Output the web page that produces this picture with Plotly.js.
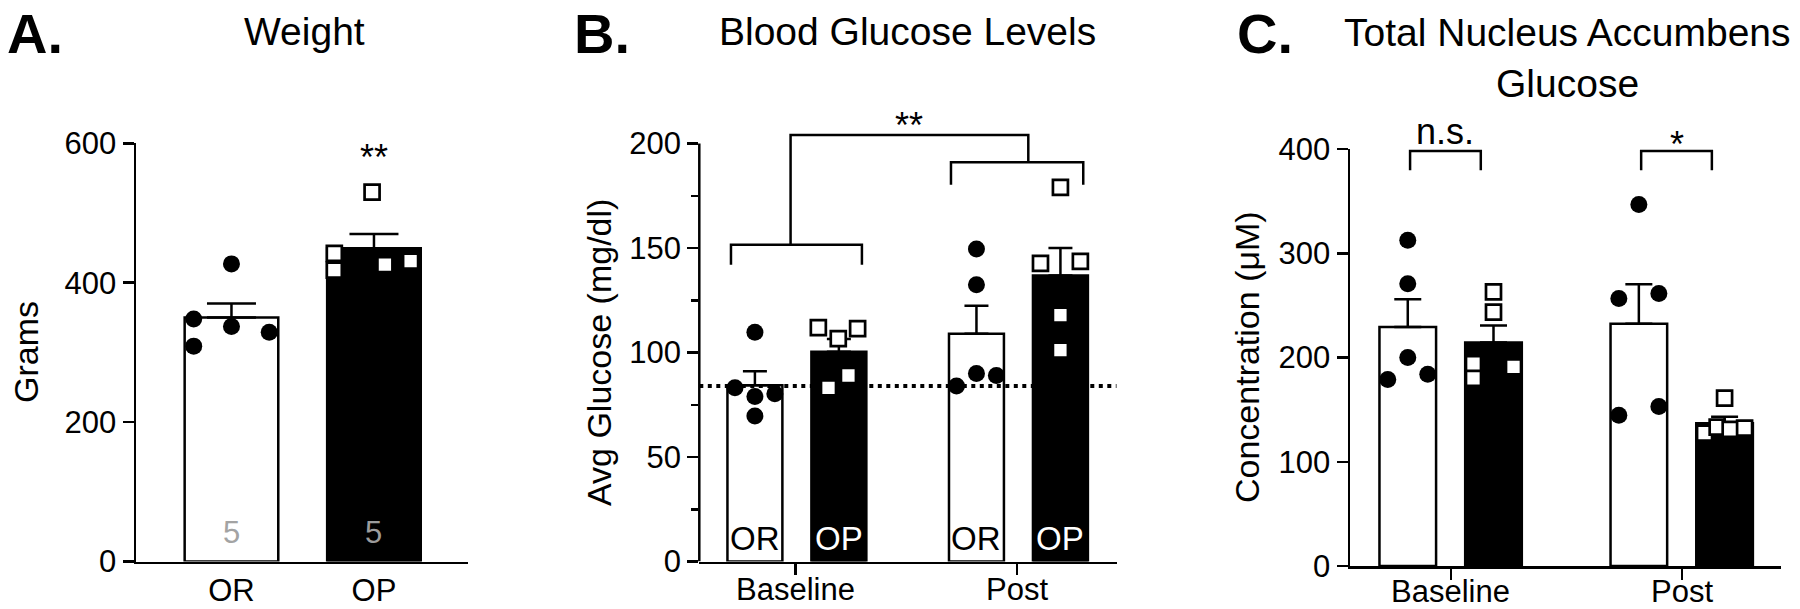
<!DOCTYPE html>
<html><head><meta charset="utf-8">
<script src="https://cdn.plot.ly/plotly-3.0.1.min.js"></script>
<style>html,body{margin:0;padding:0;background:#fff;} #chart{width:1800px;height:609px;}</style>
</head><body><div id="chart"></div>
<script>
// ---------------- DATA ----------------
// Panel A: body weight (grams)
const weightCategories = ['OR', 'OP'];
const weightOR = [427, 348, 309, 337, 329];
const weightOP = [530, 442, 418, 426, 431];
const weightTicks = [0, 200, 400, 600];

// Panel B: blood glucose (mg/dl)
const timepoints = ['Baseline', 'Post'];
const groupNames = ['OR', 'OP'];
const bloodOR = { Baseline: [109.7, 83.1, 79.0, 80.3, 69.6], Post: [149.5, 132.4, 84.0, 89.9, 89.0] };
const bloodOP = { Baseline: [111.9, 106.6, 111.4, 83.1, 89.0], Post: [179.0, 142.6, 143.6, 117.9, 101.1] };
const bloodReference = 84;
const bloodTicks = [0, 50, 100, 150, 200];

// Panel C: total nucleus accumbens glucose (uM)
const nacOR = { Baseline: [312.5, 270.7, 200, 179, 184], Post: [346.8, 256.5, 261.4, 144.7, 152.9] };
const nacOP = { Baseline: [263, 243.5, 194, 180, 191], Post: [161, 127.5, 133.3, 131, 132.3] };
const nacTicks = [0, 100, 200, 300, 400];

// significance labels
const sigA = '**', sigB = '**', sigCbase = 'n.s.', sigCpost = '*';

// ---------------- LAYOUT HELPERS (positions / styles) ----------------
const W = 1800, H = 609;
const px = v => v / W, py = v => 1 - v / H;
const FONT = 'Liberation Sans, Arial, Helvetica, sans-serif';
const LW = 2.5;

// horizontal scatter spread of points (slot multiples)
const spreadA = { OR: [0, -1, -1, 0, 1], OP: [-0.05, -1.05, -1.05, 0.29, 0.97] };
const spreadB = {
  OR: { Baseline: [0, -1, 0, 1, 0], Post: [0, 0, -1, 0, 1] },
  OP: { Baseline: [-1.03, -0.03, 0.94, -0.52, 0.48], Post: [0, -1, 1, 0, 0] }
};
const spreadC = {
  OR: { Baseline: [0, 0, 0, -1, 1], Post: [0, -1, 1, -1, 1] },
  OP: { Baseline: [0, 0, -1, -1, 1], Post: [0, -1, -0.37, 0.28, 1] }
};
const slotA = 0.265, slotB = 0.09, slotC = 0.0866;
const offB = { OR: -0.184, OP: 0.195 }, offC = { OR: -0.187, OP: 0.184 };
const barWA = 0.657, barWB = 0.248, barWC = 0.245;
const rangeXA = [-0.67, 1.662], rangeXB = [-0.435, 1.449], rangeXC = [-0.437, 1.426];

const mean = a => a.reduce((s, v) => s + v, 0) / a.length;
const sem = a => { const m = mean(a); return Math.sqrt(a.reduce((s, v) => s + (v - m) ** 2, 0) / (a.length - 1)) / Math.sqrt(a.length); };

const circle = { symbol: 'circle', size: 17, color: 'black', line: { width: 0 } };
const square = { symbol: 'square', size: 15, color: 'white', line: { width: 2.7, color: 'black' } };

const traces = [];

// ---- Panel A ----
traces.push({
  type: 'bar', x: [0, 1], y: [mean(weightOR), mean(weightOP)], width: barWA,
  marker: { color: ['white', 'black'], line: { color: 'black', width: LW } },
  error_y: { type: 'data', symmetric: false, array: [sem(weightOR), sem(weightOP)], arrayminus: [0, 0], width: 24.5, thickness: LW, color: 'black' },
  xaxis: 'x', yaxis: 'y', hoverinfo: 'skip'
});
traces.push({ type: 'scatter', mode: 'markers', x: weightOR.map((v, i) => 0 + spreadA.OR[i] * slotA), y: weightOR, marker: circle, xaxis: 'x', yaxis: 'y', cliponaxis: false });
traces.push({ type: 'scatter', mode: 'markers', x: weightOP.map((v, i) => 1 + spreadA.OP[i] * slotA), y: weightOP, marker: square, xaxis: 'x', yaxis: 'y', cliponaxis: false });

// ---- grouped panels helper ----
function grouped(dOR, dOP, off, barW, capW, xa, ya) {
  const tp = timepoints;
  traces.push({
    type: 'bar', x: tp.map((t, i) => i + off.OR), y: tp.map(t => mean(dOR[t])), width: barW,
    marker: { color: 'white', line: { color: 'black', width: LW } },
    error_y: { type: 'data', symmetric: false, array: tp.map(t => sem(dOR[t])), arrayminus: [0, 0], width: capW, thickness: LW, color: 'black' },
    xaxis: xa, yaxis: ya, hoverinfo: 'skip'
  });
  traces.push({
    type: 'bar', x: tp.map((t, i) => i + off.OP), y: tp.map(t => mean(dOP[t])), width: barW,
    marker: { color: 'black', line: { color: 'black', width: LW } },
    error_y: { type: 'data', symmetric: false, array: tp.map(t => sem(dOP[t])), arrayminus: [0, 0], width: capW, thickness: LW, color: 'black' },
    xaxis: xa, yaxis: ya, hoverinfo: 'skip'
  });
}
function points(dOR, dOP, off, slot, spread, xa, ya) {
  timepoints.forEach((t, i) => {
    traces.push({ type: 'scatter', mode: 'markers', x: dOR[t].map((v, k) => i + off.OR + spread.OR[t][k] * slot), y: dOR[t], marker: circle, xaxis: xa, yaxis: ya, cliponaxis: false });
    traces.push({ type: 'scatter', mode: 'markers', x: dOP[t].map((v, k) => i + off.OP + spread.OP[t][k] * slot), y: dOP[t], marker: square, xaxis: xa, yaxis: ya, cliponaxis: false });
  });
}

// ---- Panel B ----
grouped(bloodOR, bloodOP, offB, barWB, 12, 'x2', 'y2');
traces.push({ type: 'scatter', mode: 'lines', x: rangeXB, y: [bloodReference, bloodReference], line: { color: 'black', width: 4, dash: '4px,4.5px' }, xaxis: 'x2', yaxis: 'y2', hoverinfo: 'skip' });
points(bloodOR, bloodOP, offB, slotB, spreadB, 'x2', 'y2');

// ---- Panel C ----
grouped(nacOR, nacOP, offC, barWC, 13.5, 'x3', 'y3');
points(nacOR, nacOP, offC, slotC, spreadC, 'x3', 'y3');

// ---------------- AXES ----------------
const tickFont = { family: FONT, size: 31, color: 'black' };
const baseAxis = { showgrid: false, zeroline: false, showline: true, linecolor: 'black', linewidth: LW, tickcolor: 'black', tickwidth: LW, tickfont: tickFont, fixedrange: true };

const layout = {
  width: W, height: H, margin: { l: 0, r: 0, t: 0, b: 0, pad: 0 },
  paper_bgcolor: 'white', plot_bgcolor: 'white', showlegend: false, barmode: 'overlay',
  font: { family: FONT, color: 'black' },
  xaxis: Object.assign({}, baseAxis, { domain: [px(136), px(468.3)], range: rangeXA, tickmode: 'array', tickvals: [0, 1], ticktext: weightCategories, ticks: '', anchor: 'y' }),
  yaxis: Object.assign({}, baseAxis, { domain: [py(561.5), py(143.3)], range: [0, 600], tickmode: 'array', tickvals: weightTicks, ticks: 'outside', ticklen: 11, anchor: 'x' }),
  xaxis2: Object.assign({}, baseAxis, { domain: [px(699.3), px(1116.7)], range: rangeXB, tickmode: 'array', tickvals: [0, 1], showticklabels: false, ticks: 'outside', ticklen: 11, anchor: 'y2' }),
  yaxis2: Object.assign({}, baseAxis, { domain: [py(561.5), py(122.6)], range: [0, 210], showline: false, tickmode: 'array', tickvals: bloodTicks, ticks: 'outside', ticklen: 11, anchor: 'x2',
    minor: { tickmode: 'array', tickvals: bloodTicks.slice(1).map((v, i) => (v + bloodTicks[i]) / 2), ticks: 'outside', ticklen: 7.5, tickwidth: LW, tickcolor: 'black', showgrid: false } }),
  xaxis3: Object.assign({}, baseAxis, { domain: [px(1350), px(1780.5)], range: rangeXC, tickmode: 'array', tickvals: [0, 1], showticklabels: false, ticks: 'outside', ticklen: 11, anchor: 'y3' }),
  yaxis3: Object.assign({}, baseAxis, { domain: [py(566), py(149)], range: [0, 400], tickmode: 'array', tickvals: nacTicks, ticks: 'outside', ticklen: 11, anchor: 'x3' }),
  shapes: [], annotations: []
};

// spine of panel B (range extends above 200 so brackets fit)
layout.shapes.push({ type: 'line', xref: 'x2 domain', yref: 'y2', x0: 0, x1: 0, y0: 0, y1: bloodTicks[bloodTicks.length - 1], line: { color: 'black', width: LW } });

const br = (xref, yref, d) => ({ type: 'path', xref, yref, path: d, line: { color: 'black', width: LW }, layer: 'above' });
// Panel B brackets
const bLow = 142, bBar = 151.6, pLow = 180.3, pBar = 191, topBar = 204.1;
const bL = -0.292, bR = 0.299, stemL = -0.023, stemR = 1.05, pL = 0.701, pR = 1.298;
layout.shapes.push(br('x2', 'y2', `M${bL},${bLow} V${bBar} H${bR} V${bLow}`));
layout.shapes.push(br('x2', 'y2', `M${pL},${pLow} V${pBar} H${pR} V${pLow}`));
layout.shapes.push(br('x2', 'y2', `M${stemL},${bBar} V${topBar} H${stemR} V${pBar}`));
// Panel C brackets
const cLow = 379.5, cBar = 398;
[0, 1].forEach(i => {
  const l = i + offC.OR + 0.01, r = i + offC.OP - 0.055;
  layout.shapes.push(br('x3', 'y3', `M${l},${cLow} V${cBar} H${r} V${cLow}`));
});

// ---------------- TEXT ----------------
const ann = layout.annotations;
const T = (text, x, y, o) => ann.push(Object.assign({ text, x, y, xref: 'paper', yref: 'paper', showarrow: false, xanchor: 'center', yanchor: 'middle', font: { family: FONT, size: 39, color: 'black' } }, o || {}));

// panel letters (anchored at the top edge so they are not cut off)
const letterFont = { family: FONT, size: 56, color: 'black' };
T('<b>A.</b>', px(5), 1, { xanchor: 'left', yanchor: 'top', font: letterFont });
T('<b>B.</b>', px(572), 1, { xanchor: 'left', yanchor: 'top', font: letterFont });
T('<b>C.</b>', px(1235), 1, { xanchor: 'left', yanchor: 'top', font: letterFont });
// titles
T('Weight', px(304), py(31));
T('Blood Glucose Levels', px(907), py(31));
T('Total Nucleus Accumbens', px(1567), py(32));
T('Glucose', px(1567), py(83.5));
// axis titles
const axT = { textangle: -90, font: { family: FONT, size: 34, color: 'black' } };
T('Grams', px(26), py(352), axT);
T('Avg Glucose (mg/dl)', px(599), py(353), axT);
T('Concentration (\u03bcM)', px(1246.5), py(357.5), axT);

// category labels under B and C
timepoints.forEach((t, i) => {
  ann.push({ text: t, x: i, xref: 'x2', y: py(589), yref: 'paper', showarrow: false, yanchor: 'middle', font: tickFont });
  ann.push({ text: t, x: i, xref: 'x3', y: py(591), yref: 'paper', showarrow: false, yanchor: 'middle', font: tickFont });
});

// n per group inside bars in A
ann.push({ text: String(weightOR.length), x: 0, y: 42.3, xref: 'x', yref: 'y', showarrow: false, yanchor: 'middle', font: { family: FONT, size: 31, color: '#a3a3a3' } });
ann.push({ text: String(weightOP.length), x: 1, y: 42.3, xref: 'x', yref: 'y', showarrow: false, yanchor: 'middle', font: { family: FONT, size: 31, color: '#9c9c9c' } });
// group labels inside bars in B
timepoints.forEach((t, i) => {
  ann.push({ text: groupNames[0], x: i + offB.OR, y: 10.9, xref: 'x2', yref: 'y2', showarrow: false, yanchor: 'middle', font: { family: FONT, size: 33, color: 'black' } });
  ann.push({ text: groupNames[1], x: i + offB.OP, y: 10.9, xref: 'x2', yref: 'y2', showarrow: false, yanchor: 'middle', font: { family: FONT, size: 33, color: 'white' } });
});
// significance
const sigFont = { family: FONT, size: 36, color: 'black' };
const cTop = nacTicks[nacTicks.length - 1], cPxPerUnit = 417 / cTop;
ann.push({ text: sigA, x: 1, y: 580, xref: 'x', yref: 'y', showarrow: false, yanchor: 'middle', font: sigFont });
ann.push({ text: sigB, x: (stemL + stemR) / 2, y: 208.6, xref: 'x2', yref: 'y2', showarrow: false, yanchor: 'middle', font: sigFont });
ann.push({ text: sigCbase, x: 0 + (offC.OR + offC.OP - 0.045) / 2, y: cTop, yshift: (417 - cTop) * cPxPerUnit, xref: 'x3', yref: 'y3', showarrow: false, yanchor: 'middle', font: sigFont });
ann.push({ text: sigCpost, x: 1 + (offC.OR + offC.OP - 0.045) / 2, y: cTop, yshift: (404.2 - cTop) * cPxPerUnit, xref: 'x3', yref: 'y3', showarrow: false, yanchor: 'middle', font: sigFont });

Plotly.newPlot('chart', traces, layout, { staticPlot: true, displayModeBar: false });
</script>
</body></html>
